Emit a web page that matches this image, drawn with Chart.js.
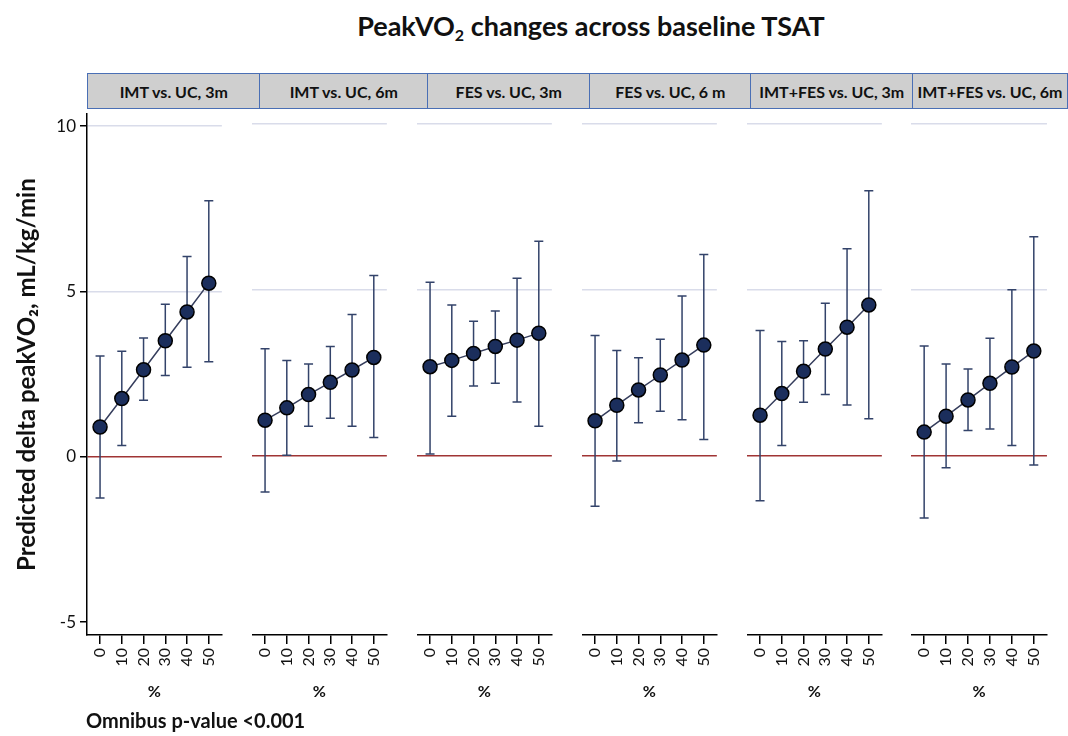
<!DOCTYPE html>
<html>
<head>
<meta charset="utf-8">
<script src="https://cdn.jsdelivr.net/npm/chart.js@4.4.1/dist/chart.umd.min.js"></script>
<style>
  body{margin:0;width:1068px;height:736px;background:#fff;position:relative;overflow:hidden;font-family:Lato,'DejaVu Sans',sans-serif;color:#111;}
  #title{position:absolute;left:0;width:1182px;top:9px;text-align:center;font-weight:bold;font-size:27px;}
  #title sub{font-size:16px;vertical-align:-5px;}
  .hdr{position:absolute;top:73px;height:36px;background:#cfcfcf;border:1.5px solid #4a6fb5;box-sizing:border-box;font-weight:bold;font-size:16px;display:flex;align-items:center;justify-content:center;white-space:nowrap;overflow:visible;}
  canvas{position:absolute;top:100px;}
  #foot{position:absolute;left:86px;top:708px;font-weight:bold;font-size:20px;}
</style>
</head>
<body>
<div id="title">PeakVO<sub>2</sub> changes across baseline TSAT</div>
<div id="headers"></div>
<canvas id="c0" width="232" height="610" style="left:0px"></canvas>
<canvas id="c1" width="145" height="610" style="left:252px"></canvas>
<canvas id="c2" width="145" height="610" style="left:417px"></canvas>
<canvas id="c3" width="145" height="610" style="left:582px"></canvas>
<canvas id="c4" width="145" height="610" style="left:747px"></canvas>
<canvas id="c5" width="146" height="610" style="left:911px"></canvas>
<div id="foot">Omnibus p-value &lt;0.001</div>
<script>
// ---- data ----
const panelTitles = ['IMT vs. UC, 3m','IMT vs. UC, 6m','FES vs. UC, 3m','FES vs. UC, 6 m','IMT+FES vs. UC, 3m','IMT+FES vs. UC, 6m'];
const tsat = [0,10,20,30,40,50];
const yTicks = [-5,0,5,10];
const yTitle = 'Predicted delta peakVO\u2082, mL/kg/min';
const xTitle = '%';

const imt3Est = [0.90,1.76,2.63,3.51,4.38,5.25];
const imt3Lo  = [-1.25,0.34,1.71,2.46,2.71,2.87];
const imt3Hi  = [3.05,3.19,3.59,4.61,6.06,7.74];

const imt6Est = [1.08,1.45,1.85,2.22,2.59,2.97];
const imt6Lo  = [-1.08,0.02,0.90,1.14,0.90,0.56];
const imt6Hi  = [3.23,2.88,2.77,3.30,4.26,5.44];

const fes3Est = [2.69,2.88,3.09,3.30,3.49,3.70];
const fes3Lo  = [0.06,1.20,2.11,2.19,1.63,0.90];
const fes3Hi  = [5.23,4.55,4.06,4.37,5.35,6.47];

const fes6Est = [1.06,1.53,1.99,2.44,2.89,3.34];
const fes6Lo  = [-1.51,-0.15,1.00,1.35,1.09,0.50];
const fes6Hi  = [3.63,3.18,2.96,3.52,4.82,6.07];

const both3Est = [1.23,1.88,2.55,3.22,3.88,4.55];
const both3Lo  = [-1.35,0.32,1.62,1.85,1.54,1.12];
const both3Hi  = [3.78,3.45,3.47,4.60,6.24,7.99];

const both6Est = [0.72,1.20,1.69,2.19,2.68,3.16];
const both6Lo  = [-1.87,-0.35,0.77,0.81,0.32,-0.27];
const both6Hi  = [3.31,2.77,2.62,3.55,5.01,6.60];

const panels = [
  [imt3Est, imt3Lo, imt3Hi],
  [imt6Est, imt6Lo, imt6Hi],
  [fes3Est, fes3Lo, fes3Hi],
  [fes6Est, fes6Lo, fes6Hi],
  [both3Est, both3Lo, both3Hi],
  [both6Est, both6Lo, both6Hi]
];

// ---- headers (HTML strips) ----
const hdrEdges = [87,259,427,589,750,912,1068];
const hdrBox = document.getElementById('headers');
panelTitles.forEach((t,i)=>{
  const d = document.createElement('div');
  d.className='hdr';
  d.style.left = hdrEdges[i]+'px';
  d.style.width = (hdrEdges[i+1]-hdrEdges[i]+ (i<5?1.5:0))+'px';
  d.textContent = t;
  hdrBox.appendChild(d);
});

const FONT = "Lato, 'DejaVu Sans', sans-serif";
Chart.defaults.font.family = FONT;
Chart.defaults.color = '#111';

const errorBars = {
  id:'errorBars',
  beforeDatasetsDraw(chart){
    const lo = chart.options.plugins.errorBars.lo, hi = chart.options.plugins.errorBars.hi;
    const xs = chart.scales.x, ys = chart.scales.y, ctx = chart.ctx;
    ctx.save();
    ctx.strokeStyle = '#33436a';
    ctx.lineWidth = 1.5;
    tsat.forEach((v,i)=>{
      const px = xs.getPixelForValue(v);
      const y1 = ys.getPixelForValue(lo[i]), y2 = ys.getPixelForValue(hi[i]);
      ctx.beginPath();
      ctx.moveTo(px,y1); ctx.lineTo(px,y2);
      ctx.moveTo(px-4.5,y1); ctx.lineTo(px+4.5,y1);
      ctx.moveTo(px-4.5,y2); ctx.lineTo(px+4.5,y2);
      ctx.stroke();
    });
    ctx.restore();
  }
};

function makePanel(idx){
  const first = idx===0;
  const [est, lo, hi] = panels[idx];
  new Chart(document.getElementById('c'+idx), {
    type:'line',
    data:{ datasets:[{
      data: tsat.map((v,i)=>({x:v,y:est[i]})),
      borderColor:'#353d5c', borderWidth:1.5,
      pointRadius:7, pointBackgroundColor:'#1b2e5c', pointBorderColor:'#000', pointBorderWidth:1.5,
      tension:0, clip:false
    }]},
    options:{
      responsive:false, animation:false,
      layout:{autoPadding:false, padding:{top:12,right:0,bottom:0,left:0}},
      plugins:{legend:{display:false}, tooltip:{enabled:false}, errorBars:{lo, hi}},
      scales:{
        x:{type:'linear', min:-6, max:56,
          afterBuildTicks:s=>{s.ticks = tsat.map(v=>({value:v}));},
          ticks:{minRotation:90, maxRotation:90, autoSkip:false, padding:4, font:{size:16}, color:'#111'},
          grid:{drawOnChartArea:false, drawTicks:true, tickLength:9, tickColor:'#000', lineWidth:1.5},
          border:{display:true, color:'#000', width:1.5},
          title:{display:true, text:xTitle, font:{size:16, weight:'bold'}, color:'#111', padding:{top:4,bottom:9}},
          afterFit:s=>{s.height = 75;}
        },
        y:{type:'linear', min:-5.39, max:10.36,
          afterBuildTicks:s=>{s.ticks = yTicks.map(v=>({value:v}));},
          ticks:{display:first, font:{size:17}, color:'#111', padding:4},
          grid:{
            color:ctx=>{ const v = ctx.tick ? ctx.tick.value : null; if(v===0) return '#a03434'; if(v>0) return '#d9dcea'; return 'rgba(0,0,0,0)'; },
            lineWidth:1.5, drawTicks:first, tickLength:7, tickColor:'#000'
          },
          border:{display:first, color:'#000', width:1.5},
          title:{display:first, text:yTitle, font:{size:24, weight:'bold'}, color:'#111', padding:{top:13,bottom:0}},
          afterFit:s=>{s.width = first ? 87 : 0;}
        }
      }
    },
    plugins:[errorBars]
  });
}
for(let i=0;i<6;i++) makePanel(i);
</script>
</body>
</html>
